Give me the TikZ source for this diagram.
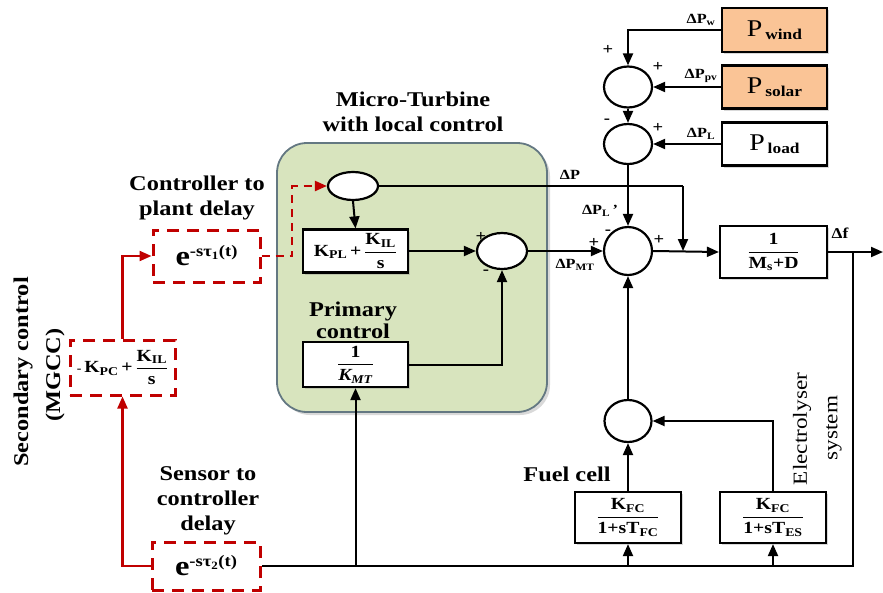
\documentclass[tikz,border=0pt]{standalone}
\usepackage{fontspec}
\setmainfont{Liberation Serif}[FakeStretch=1.16]
\usetikzlibrary{arrows.meta,shapes.geometric,shadows}
\definecolor{dred}{RGB}{192,0,0}
\definecolor{ofill}{RGB}{250,196,150}
\definecolor{gfill}{RGB}{216,228,190}
\definecolor{gdraw}{RGB}{100,120,130}
\newcommand\sbx[1]{\textsubscript{#1}}
\newcommand\spx[1]{\textsuperscript{#1}}
\newcommand\fracx[2]{$\displaystyle\frac{\hbox{#1}}{\hbox{#2}}$}
\tikzset{
 blk/.style={draw, line width=2.2pt, fill=white, inner sep=1pt, font=\fontsize{17}{19}\selectfont\bfseries,
   drop shadow={opacity=0.3,shadow xshift=2pt,shadow yshift=-2pt}},
 sumc/.style={draw, ellipse, line width=2.2pt, fill=white, inner sep=0pt},
 dbox/.style={draw=dred, line width=3pt, dash pattern=on 12pt off 8pt, fill=white, inner sep=1pt,
   font=\fontsize{17}{19}\selectfont\bfseries},
 lbl/.style={font=\fontsize{21}{25}\selectfont\bfseries, align=center, inner sep=0pt},
 sig/.style={font=\fontsize{16}{16}\selectfont\bfseries, inner sep=0pt},
 dlab/.style={font=\fontsize{14}{14}\selectfont\bfseries, inner sep=0pt},
 ln/.style={line width=2pt},
 rln/.style={draw=dred, line width=2.2pt},
}
\begin{document}
\begin{tikzpicture}[x=1pt,y=-1pt,>={Triangle[length=12pt,width=10pt]}]
\useasboundingbox (0,0) rectangle (883,592);
% green micro-turbine area
\node[draw=gdraw, line width=1.8pt, fill=gfill, rounded corners=30pt, minimum width=270pt, minimum height=269pt,
  drop shadow={opacity=0.3,shadow xshift=3pt,shadow yshift=-3pt}] (gbox) at (412,277.5) {};
\node[lbl] (mtt) at (413,112) {Micro-Turbine\\with local control};
\node[lbl, font=\fontsize{21}{22}\selectfont\bfseries] (pct) at (353,320) {Primary\\control};
% sources
\node[blk, fill=ofill, minimum width=105pt, minimum height=44pt] (pwind) at (774.5,30)
  {{\fontsize{24}{24}\selectfont\mdseries P}\,\raisebox{-3pt}{\fontsize{15}{15}\selectfont wind}};
\node[blk, fill=ofill, minimum width=105pt, minimum height=43pt] (psolar) at (774.5,87)
  {{\fontsize{24}{24}\selectfont\mdseries P}\,\raisebox{-3pt}{\fontsize{15}{15}\selectfont solar}};
\node[blk, minimum width=105pt, minimum height=43pt] (pload) at (774.5,144)
  {{\fontsize{24}{24}\selectfont\mdseries P}\,\raisebox{-3pt}{\fontsize{15}{15}\selectfont load}};
% summing junctions
\node[sumc, minimum width=48pt, minimum height=41pt] (s1) at (628,87) {};
\node[sumc, minimum width=48pt, minimum height=40pt] (s2) at (628,144) {};
\node[sumc, minimum width=48pt, minimum height=48pt] (ms) at (628,251) {};
\node[sumc, minimum width=47pt, minimum height=42pt] (fcs) at (628,421) {};
\node[sumc, minimum width=50pt, minimum height=28pt] (t1) at (353,186) {};
\node[sumc, minimum width=50pt, minimum height=36pt] (t2) at (502,251) {};
% blocks
\node[blk, minimum width=105pt, minimum height=43pt] (kpl) at (355.5,251)
  {K\sbx{PL}\,+\,\fracx{K\sbx{IL}}{s}};
\node[blk, minimum width=105pt, minimum height=45pt] (kmt) at (355.5,364.5)
  {\fracx{1}{\itshape K\sbx{MT}}};
\node[blk, minimum width=107pt, minimum height=52pt] (msd) at (773.5,252)
  {\fracx{1}{M\sbx{s}+D}};
\node[blk, minimum width=106pt, minimum height=51pt] (fcb) at (628,517.5)
  {\fracx{K\sbx{FC}}{1+sT\sbx{FC}}};
\node[blk, minimum width=106pt, minimum height=51pt] (esb) at (773,517.5)
  {\fracx{K\sbx{FC}}{1+sT\sbx{ES}}};
% red dashed blocks
\node[dbox, minimum width=107pt, minimum height=52pt] (e1) at (206.5,256)
  {{\fontsize{28}{28}\selectfont e}\raisebox{9pt}{\fontsize{16}{16}\selectfont -sτ\sbx{1}(t)}};
\node[dbox, minimum width=108pt, minimum height=48pt] (e2) at (206,566)
  {{\fontsize{28}{28}\selectfont e}\raisebox{9pt}{\fontsize{16}{16}\selectfont -sτ\sbx{2}(t)}};
\node[dbox, minimum width=105pt, minimum height=55pt] (sec) at (122.5,367.5)
  {{\fontsize{12}{12}\selectfont -}\,K\sbx{PC}\,+\,\fracx{K\sbx{IL}}{s}};
% labels
\node[lbl] (cpd) at (197,198) {Controller to\\plant delay};
\node[lbl] (scd) at (208,501) {Sensor to\\controller\\delay};
\node[lbl, rotate=90] (sct) at (23,372) {Secondary control};
\node[lbl, rotate=90] (mgcc) at (55,375) {(MGCC)};
\node[lbl] (fct) at (567,474) {Fuel cell};
\node[lbl, rotate=90, font=\fontsize{20}{24}\selectfont] (elt) at (802,429) {Electrolyser};
\node[lbl, rotate=90, font=\fontsize{20}{24}\selectfont] (syt) at (834,428) {system};
\node[dlab] (lw) at (701,20) {ΔP\sbx{w}};
\node[dlab] (lpv) at (701,76) {ΔP\sbx{pv}};
\node[dlab] (ll) at (701,134) {ΔP\sbx{L}};
\node[dlab] (ldp) at (570,175) {ΔP};
\node[dlab] (ldpl) at (600,211) {ΔP\sbx{L}\,'};
\node[dlab] (ldmt) at (575,265) {ΔP\sbx{MT}};
\node[dlab, font=\fontsize{15}{15}\selectfont\bfseries] (ldf) at (840,233) {Δf};
\node[sig] (g1) at (608,50) {+};
\node[sig] (g2) at (658,67) {+};
\node[sig] (g3) at (607,121) {-};
\node[sig] (g4) at (658,128) {+};
\node[sig] (g5) at (608,232) {-};
\node[sig] (g6) at (594,243) {+};
\node[sig] (g7) at (659,240) {+};
\node[sig] (g8) at (481,237) {+};
\node[sig] (g9) at (486,272) {-};
% coordinates
\coordinate (dpc) at (683,186);
\coordinate (dpj) at (683,251);
\coordinate (fo) at (853,252);
\coordinate (fend) at (883,252);
\coordinate (fb) at (853,566);
\coordinate (rk) at (292,256);
% black connectors
\draw[ln,->] (pwind.west) -| (s1.north);
\draw[ln,->] (psolar.west) -- (s1.east);
\draw[ln,->] (s1.south) -- (s2.north);
\draw[ln,->] (pload.west) -- (s2.east);
\draw[ln,->] (s2.south) -- (ms.north);
\draw[ln] (t1.east) -- (dpc);
\draw[ln,->] (dpc) -- (dpj);
\draw[ln,->] (t1.south) -- (kpl.north);
\draw[ln,->] (kpl.east) -- (t2.west);
\draw[ln,->] (kmt.east) -| (t2.south);
\draw[ln,->] (t2.east) -- (ms.west);
\draw[ln,->] (ms.east) -- (msd.west);
\draw[ln,->] (msd.east) -- (fend);
\draw[ln] (fo) -- (fb) -- (e2.east);
\draw[ln,->] (fcs.north) -- (ms.south);
\draw[ln,->] (fcb.north) -- (fcs.south);
\draw[ln,->] (esb.north) |- (fcs.east);
\draw[ln,->] (fcb.south |- fb) -- (fcb.south);
\draw[ln,->] (esb.south |- fb) -- (esb.south);
\draw[ln,->] (kmt.south |- fb) -- (kmt.south);
% red connectors
\draw[rln,-{Triangle[length=12pt,width=10pt]}] (sec.north) |- (e1.west);
\draw[rln,-{Triangle[length=12pt,width=10pt]}] (e2.west) -| (sec.south);
\draw[rln,dash pattern=on 8pt off 6pt,-{Triangle[length=12pt,width=10pt]}] (e1.east) -- (rk) |- (t1.west);
\end{tikzpicture}
\end{document}
